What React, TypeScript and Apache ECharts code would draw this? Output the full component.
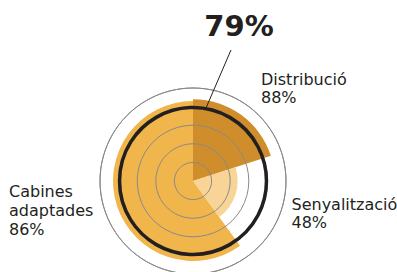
import React, { useEffect, useRef } from "react";
import * as echarts from "echarts";

const categories = ["Distribució", "Senyalització", "Cabines\nadaptades"];
const values = [88, 48, 86];
const weights = [20, 20, 60];
const overall = 79;
const colors = ["#CF8D2B", "#F8D597", "#F0B54B"];
const labelPos = [
  [261, 70, 18],
  [291.5, 195.5, 18],
  [9, 182, 19],
];

export default function App() {
  const ref = useRef<HTMLDivElement>(null);
  useEffect(() => {
    document.body.style.margin = "0";
    const chart = echarts.init(ref.current!, null, { renderer: "svg" });
    let acc = 0;
    const sectorData = values.map((v, i) => {
      const a0 = acc;
      acc += weights[i];
      return [v, a0, acc, i];
    });
    const textColor = "#231f20";
    const option: any = {
      animation: false,
      polar: { center: [193, 181], radius: 93 },
      angleAxis: {
        type: "value",
        min: 0,
        max: 100,
        startAngle: 90,
        clockwise: true,
        axisLine: { show: true, lineStyle: { color: "#8a8a8a", width: 1 } },
        axisTick: { show: false },
        axisLabel: { show: false },
        splitLine: { show: false },
        z: 5,
      },
      radiusAxis: {
        type: "value",
        min: 0,
        max: 100,
        interval: 20,
        axisLine: { show: false },
        axisTick: { show: false },
        axisLabel: { show: false },
        splitLine: { show: true, lineStyle: { color: "#8a8a8a", width: 1 } },
        z: 5,
      },
      series: [
        {
          type: "custom",
          coordinateSystem: "polar",
          z: 1,
          encode: { radius: 0, angle: 1 },
          data: sectorData,
          renderItem: (params: any, api: any) => {
            const cs = params.coordSys;
            const cx = cs.cx, cy = cs.cy;
            const v = api.value(0), a0 = api.value(1), a1 = api.value(2), idx = api.value(3);
            const pr = api.coord([v, a0]);
            const r = Math.hypot(pr[0] - cx, pr[1] - cy);
            const pA = api.coord([100, a0]);
            const pB = api.coord([100, a1]);
            const s = Math.atan2(pA[1] - cy, pA[0] - cx);
            let e = Math.atan2(pB[1] - cy, pB[0] - cx);
            while (e <= s) e += Math.PI * 2;
            return {
              type: "sector",
              shape: { cx, cy, r0: 0, r, startAngle: s, endAngle: e, clockwise: true },
              style: { fill: colors[idx] },
            };
          },
        },
        {
          type: "custom",
          coordinateSystem: "polar",
          z: 10,
          encode: { radius: 0, angle: 1 },
          data: [[overall, 0]],
          renderItem: (params: any, api: any) => {
            const cs = params.coordSys;
            const p = api.coord([api.value(0), 0]);
            const r = Math.hypot(p[0] - cs.cx, p[1] - cs.cy);
            return {
              type: "circle",
              shape: { cx: cs.cx, cy: cs.cy, r },
              style: { fill: "none", stroke: textColor, lineWidth: 3.5 },
            };
          },
        },
      ],
      graphic: [
        {
          type: "text",
          x: 239,
          y: 26,
          style: {
            text: overall + "%",
            font: "bold 29px 'DejaVu Sans'",
            fill: textColor,
            textAlign: "center",
            textVerticalAlign: "middle",
          },
        },
        {
          type: "line",
          shape: { x1: 231, y1: 50, x2: 206, y2: 108 },
          style: { stroke: textColor, lineWidth: 1 },
          z: 20,
        },
        ...categories.map((c, i) => ({
          type: "text",
          x: labelPos[i][0],
          y: labelPos[i][1],
          style: {
            text: c + "\n" + values[i] + "%",
            font: "16px 'DejaVu Sans'",
            lineHeight: labelPos[i][2],
            fill: textColor,
            textAlign: "left",
            textVerticalAlign: "top",
          },
        })),
      ],
    };
    chart.setOption(option);
    return () => chart.dispose();
  }, []);
  return <div ref={ref} style={{ width: 397, height: 272 }} />;
}
